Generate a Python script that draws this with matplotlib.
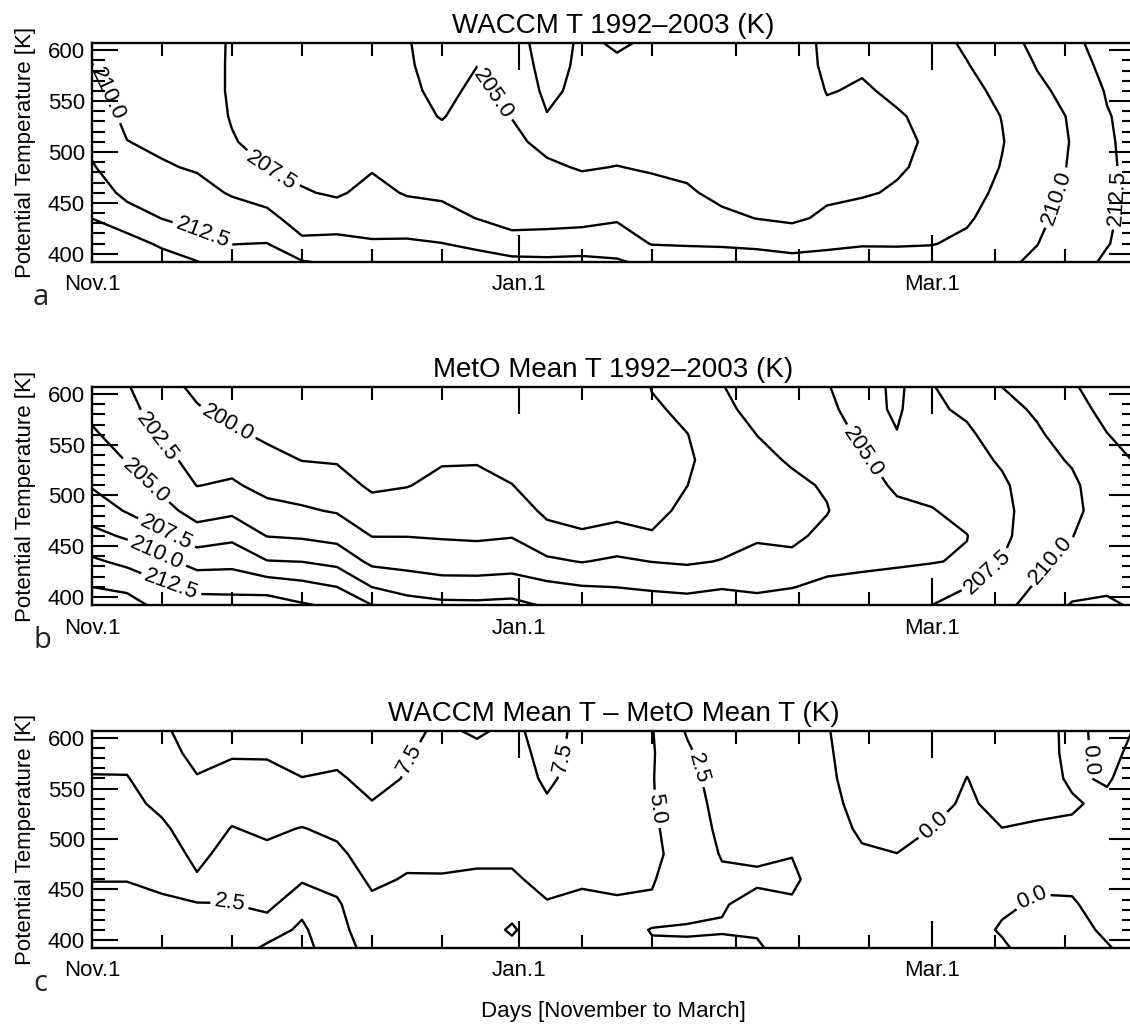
import numpy as np
import matplotlib.pyplot as plt

plt.rcParams['font.family'] = ['Liberation Sans', 'DejaVu Sans']

# grid: days since Nov 1 (every 5 days) and potential temperature levels
days = np.arange(0, 151, 5)
theta = np.array([385, 410, 435, 460, 485, 510, 535, 560, 585, 610])

# one list per day, values from theta=385 (bottom) to theta=610 (top)
waccm_cols = [
    [217.5, 216.2, 214.98, 213.8, 212.7, 211.96, 211.3, 210.7, 210.05, 209.4],
    [217.8, 216.0, 213.6, 211.9, 211.0, 210.04, 209.5, 209.0, 208.6, 208.2],
    [216.7, 214.6, 212.45, 211.3, 210.2, 209.6, 209.0, 208.6, 208.2, 207.9],
    [215.8, 213.3, 211.8, 210.7, 209.8, 209.2, 208.7, 208.3, 208.1, 207.95],
    [214.0, 212.45, 211.1, 209.8, 208.7, 207.65, 207.35, 207.3, 207.35, 207.4],
    [214.0, 212.55, 210.7, 209.0, 207.45, 206.8, 206.3, 206.0, 205.8, 205.6],
    [213.5, 210.5, 208.9, 207.7, 206.9, 206.4, 206.0, 205.7, 205.5, 205.4],
    [212.8, 210.7, 208.8, 207.2, 206.5, 206.0, 205.7, 205.5, 205.3, 205.2],
    [213.2, 210.2, 209.1, 208.2, 207.3, 206.7, 206.2, 205.8, 205.5, 205.3],
    [212.0, 210.3, 208.8, 207.3, 206.6, 206.0, 205.6, 205.4, 205.2, 205.1],
    [211.8, 210.05, 208.3, 207.1, 206.4, 205.6, 204.9, 204.5, 204.3, 204.2],
    [211.5, 209.5, 207.45, 207.0, 206.6, 206.2, 205.8, 205.4, 204.98, 204.6],
    [211.5, 208.5, 206.6, 206.1, 205.7, 205.4, 204.95, 204.3, 203.8, 203.4],
    [211.5, 208.3, 206.9, 206.1, 205.3, 204.5, 202.6, 202.0, 201.7, 201.5],
    [211.5, 208.6, 206.9, 205.8, 204.85, 204.0, 203.5, 203.1, 202.9, 202.8],
    [211.0, 208.6, 207.3, 206.1, 205.05, 204.3, 203.8, 203.3, 202.8, 202.2],
    [209.9, 207.4, 206.5, 205.6, 204.8, 204.1, 203.6, 203.2, 202.9, 202.7],
    [209.5, 207.3, 206.3, 205.3, 204.5, 203.9, 203.4, 203.1, 202.9, 202.8],
    [209.5, 207.2, 205.5, 204.4, 203.8, 203.4, 203.1, 202.9, 202.8, 202.7],
    [209.3, 207.0, 204.95, 204.2, 203.7, 203.3, 203.1, 203.0, 202.9, 202.9],
    [209.0, 206.6, 204.6, 204.0, 203.6, 203.4, 203.3, 203.3, 203.3, 203.3],
    [209.0, 207.0, 205.4, 204.6, 204.2, 204.1, 204.5, 205.1, 205.6, 205.8],
    [209.2, 207.3, 205.8, 204.8, 204.4, 204.3, 204.5, 204.8, 205.2, 205.8],
    [209.0, 207.3, 206.1, 205.2, 204.8, 204.7, 204.85, 205.3, 205.8, 206.2],
    [209.0, 207.4, 206.5, 205.9, 205.4, 205.2, 205.4, 205.8, 206.3, 206.8],
    [209.2, 208.0, 207.2, 206.7, 206.4, 206.3, 206.5, 206.9, 207.4, 207.9],
    [209.7, 209.2, 208.6, 208.0, 207.6, 207.4, 207.55, 208.0, 208.6, 209.2],
    [210.6, 209.95, 209.5, 209.2, 209.0, 208.9, 209.1, 209.6, 210.1, 210.6],
    [211.8, 211.3, 210.9, 210.5, 210.2, 210.1, 210.2, 210.6, 211.2, 211.8],
    [213.0, 212.4, 212.25, 212.2, 212.2, 212.25, 212.35, 212.7, 213.3, 214.0],
    [214.0, 213.5, 213.3, 213.2, 213.2, 213.3, 213.5, 213.9, 214.4, 214.8],
]

meto_cols = [
    [217.0, 214.98, 212.9, 210.7, 208.9, 207.3, 206.2, 205.35, 204.4, 203.5],
    [216.8, 214.4, 211.9, 209.7, 207.3, 206.2, 204.9, 203.9, 203.2, 202.6],
    [214.8, 213.0, 210.6, 208.0, 205.9, 204.4, 203.2, 202.1, 201.4, 200.8],
    [214.5, 211.7, 209.1, 206.2, 204.0, 202.45, 201.7, 201.0, 200.2, 199.4],
    [214.5, 211.6, 209.3, 206.9, 204.5, 202.8, 201.7, 200.4, 199.3, 198.6],
    [214.5, 211.5, 207.6, 204.95, 203.2, 201.8, 200.7, 199.6, 198.8, 198.2],
    [213.5, 210.8, 207.45, 204.7, 202.8, 201.4, 199.95, 199.1, 198.4, 197.9],
    [212.8, 209.98, 206.8, 204.2, 202.3, 201.0, 199.8, 199.0, 198.4, 197.9],
    [211.0, 207.45, 204.4, 202.45, 201.0, 199.6, 198.9, 198.4, 198.0, 197.7],
    [209.6, 206.4, 204.2, 202.45, 201.2, 199.9, 199.2, 198.7, 198.3, 198.0],
    [209.0, 205.9, 203.9, 202.3, 201.4, 200.6, 199.8, 199.2, 198.8, 198.5],
    [208.8, 206.0, 203.7, 202.2, 201.4, 200.6, 199.85, 199.3, 198.9, 198.6],
    [209.0, 206.2, 203.9, 202.4, 201.3, 200.05, 199.2, 198.7, 198.3, 198.0],
    [207.9, 205.6, 202.9, 200.9, 199.5, 198.8, 198.3, 197.9, 197.6, 197.4],
    [207.3, 205.1, 202.4, 200.3, 199.2, 198.6, 198.2, 197.9, 197.6, 197.4],
    [207.0, 204.95, 202.9, 200.9, 199.3, 198.6, 198.2, 197.9, 197.7, 197.5],
    [207.0, 204.6, 202.45, 200.15, 199.5, 199.1, 199.0, 199.2, 199.6, 200.2],
    [206.6, 204.4, 202.2, 201.0, 200.4, 199.98, 199.7, 199.95, 200.6, 201.2],
    [207.0, 204.8, 202.6, 201.6, 201.1, 200.9, 201.0, 201.3, 201.9, 202.45],
    [206.5, 204.5, 203.3, 202.2, 201.9, 201.8, 202.0, 202.52, 203.3, 204.0],
    [206.8, 204.9, 203.0, 202.1, 201.9, 202.1, 202.7, 203.5, 204.2, 204.8],
    [207.3, 205.6, 204.1, 203.0, 202.4, 202.7, 203.3, 203.9, 204.5, 204.9],
    [207.4, 205.7, 204.5, 204.0, 203.9, 204.2, 204.8, 205.4, 206.0, 206.4],
    [207.3, 205.9, 204.7, 204.3, 204.6, 205.3, 205.6, 205.1, 204.6, 204.3],
    [208.0, 206.2, 204.9, 204.6, 204.9, 205.6, 206.2, 206.7, 207.1, 207.45],
    [209.0, 207.45, 205.2, 204.95, 205.6, 206.1, 206.6, 207.1, 207.9, 208.6],
    [209.6, 208.5, 207.55, 206.9, 206.8, 207.1, 207.8, 208.6, 209.3, 210.1],
    [211.2, 210.3, 209.5, 209.0, 208.8, 208.9, 209.3, 209.7, 210.3, 210.9],
    [213.0, 211.8, 210.8, 209.95, 209.5, 209.6, 210.2, 211.0, 211.7, 212.3],
    [213.4, 212.0, 211.5, 211.1, 211.0, 211.3, 211.8, 212.45, 213.1, 213.7],
    [212.3, 212.0, 211.8, 211.7, 211.9, 212.3, 212.8, 213.4, 214.0, 214.6],
]

diff_cols = [
    [1.0, 1.5, 2.0, 2.55, 3.2, 3.8, 4.4, 4.9, 5.5, 6.0],
    [1.0, 1.5, 2.0, 2.55, 3.2, 3.8, 4.4, 4.9, 5.6, 6.4],
    [1.0, 1.6, 2.2, 2.9, 3.7, 4.6, 5.5, 6.2, 6.8, 7.2],
    [0.8, 1.5, 2.3, 4.75, 5.6, 6.2, 6.8, 7.4, 8.0, 8.5],
    [0.6, 1.4, 2.45, 3.3, 4.1, 4.9, 5.8, 6.8, 7.7, 8.4],
    [-0.9, 1.0, 3.2, 3.7, 4.5, 5.4, 6.0, 6.9, 7.7, 8.3],
    [-1.2, -0.4, 0.6, 2.8, 3.8, 4.9, 6.2, 7.45, 8.4, 9.0],
    [1.6, 1.9, 2.2, 3.2, 4.5, 5.5, 6.3, 7.2, 8.1, 8.8],
    [3.0, 3.6, 4.4, 5.5, 6.1, 6.6, 7.4, 8.2, 8.9, 9.4],
    [3.3, 3.8, 4.3, 4.8, 5.6, 6.2, 6.8, 7.35, 7.6, 7.8],
    [3.3, 3.8, 4.3, 4.85, 5.5, 6.0, 6.4, 6.8, 7.1, 7.3],
    [3.3, 3.7, 4.2, 4.7, 5.4, 5.9, 6.3, 6.7, 7.1, 7.8],
    [3.5, 2.2, 3.4, 4.7, 5.4, 5.8, 6.2, 6.6, 6.9, 7.2],
    [3.8, 4.2, 4.85, 5.6, 6.2, 6.7, 7.3, 7.8, 8.0, 8.1],
    [3.6, 4.0, 4.5, 5.3, 5.9, 6.3, 6.6, 6.8, 7.0, 7.1],
    [3.6, 4.1, 4.7, 5.5, 5.9, 6.1, 6.3, 6.4, 6.5, 6.5],
    [3.2, 2.3, 4.85, 5.1, 5.3, 5.2, 5.1, 5.1, 5.2, 5.1],
    [3.3, 2.2, 3.5, 4.2, 4.4, 4.3, 4.0, 3.5, 2.9, 2.2],
    [3.0, 2.4, 2.6, 3.0, 2.3, 1.8, 1.4, 1.1, 0.9, 0.7],
    [2.9, 2.3, 2.1, 2.7, 2.3, 1.6, 1.1, 0.8, 0.6, 0.5],
    [1.8, 2.0, 2.3, 2.8, 2.45, 1.7, 1.1, 0.7, 0.5, 0.4],
    [1.6, 1.5, 1.5, 1.6, 1.5, 1.1, 0.7, 0.4, 0.25, 0.1],
    [1.5, 1.4, 1.2, 0.8, 0.3, -0.4, -0.8, -1.0, -1.1, -1.1],
    [1.4, 1.2, 0.9, 0.5, 0.02, -0.5, -0.9, -1.1, -1.2, -1.2],
    [1.3, 1.1, 0.8, 0.5, 0.25, 0.02, -0.4, -0.7, -0.9, -1.0],
    [1.0, 0.8, 0.7, 0.6, 0.5, 0.35, 0.2, 0.02, -0.3, -0.5],
    [0.5, -0.2, 0.3, 0.4, 0.3, 0.02, -0.4, -0.6, -0.7, -0.8],
    [-0.8, -0.6, -0.2, 0.3, 0.35, 0.15, -0.3, -0.6, -0.7, -0.8],
    [-0.8, -0.6, -0.15, 0.3, 0.35, 0.2, -0.15, 0.2, 0.4, 0.5],
    [-0.3, 0.3, 0.6, 0.8, 0.9, 0.8, 0.3, -0.15, -0.4, -0.6],
    [0.6, 0.9, 1.1, 1.3, 1.4, 1.3, 1.1, 0.8, 0.5, 0.2],
]

titles = ['WACCM T 1992\u20132003 (K)', 'MetO Mean T 1992\u20132003 (K)',
          'WACCM Mean T \u2013 MetO Mean T (K)']
letters = ['a', 'b', 'c']
levels_a = [202.5, 205.0, 207.5, 210.0, 212.5, 215.0]
levels_b = [200.0, 202.5, 205.0, 207.5, 210.0, 212.5, 215.0]
levels_c = [0.0, 2.5, 5.0, 7.5]

major_days = [0, 61, 120]
major_labels = ['Nov.1', 'Jan.1', 'Mar.1']
minor_days = [10, 20, 30, 40, 50, 70, 80, 92, 101, 111, 129, 139]

# where the contour labels sit (day, theta)
labels_a = [(1.5, 555), (139, 452), (25.9, 485), (57.5, 558), (15.4, 414), (146.3, 455)]
labels_b = [(19.4, 572), (9, 556), (7.3, 512), (109.7, 540), (10.7, 464), (128, 424),
            (9.3, 444), (137, 436), (11.4, 414)]
labels_c = [(45.3, 580), (67.5, 580), (81.6, 531), (86.6, 570), (19.7, 440),
            (120.4, 512), (141.5, 578), (134.3, 442)]

fields = [np.array(waccm_cols).T, np.array(meto_cols).T, np.array(diff_cols).T]
levels = [levels_a, levels_b, levels_c]
label_pos = [labels_a, labels_b, labels_c]

W, H = 1130, 1026
fig = plt.figure(figsize=(W / 100, H / 100), dpi=100)
boxes = [(43, 262), (387, 605), (731, 948)]

for i in range(3):
    top, bot = boxes[i]
    ax = fig.add_axes([92 / W, 1 - bot / H, 1043 / W, (bot - top) / H])
    ax.set_xlim(0, 149)
    ax.set_ylim(392, 607)
    cs = ax.contour(days, theta, fields[i], levels=levels[i], colors='black',
                    linewidths=1.7)
    ax.clabel(cs, manual=label_pos[i], fmt='%.1f', fontsize=16,
              inline=True, inline_spacing=4)
    ax.set_xlim(0, 149)
    ax.set_ylim(392, 607)
    ax.set_xticks(major_days)
    ax.set_xticklabels(major_labels)
    ax.set_xticks(minor_days, minor=True)
    ax.set_yticks([400, 450, 500, 550, 600])
    ax.set_yticks(np.arange(400, 610, 10), minor=True)
    ax.tick_params(which='both', direction='in', top=True, right=True,
                   width=1.5, labelsize=16)
    ax.tick_params(axis='x', which='major', length=19.5, pad=9)
    ax.tick_params(axis='x', which='minor', length=9.5)
    ax.tick_params(axis='y', which='major', length=19, pad=5)
    ax.tick_params(axis='y', which='minor', length=9.5)
    for s in ax.spines.values():
        s.set_linewidth(1.7)
    ax.set_title(titles[i], fontsize=20, pad=7)
    ax.set_ylabel('Potential Temperature [K]', fontsize=16)
    ax.yaxis.set_label_coords(-0.054, 0.5)
    fig.text(33 / W, 1 - (bot + 43) / H, letters[i], fontsize=21,
             family='Open Sans', color='#222222', va='baseline', ha='left')

fig.text(613 / W, 1 - 1012 / H, 'Days [November to March]', fontsize=16,
         ha='center', va='center')

fig.savefig('out.png', dpi=100)
